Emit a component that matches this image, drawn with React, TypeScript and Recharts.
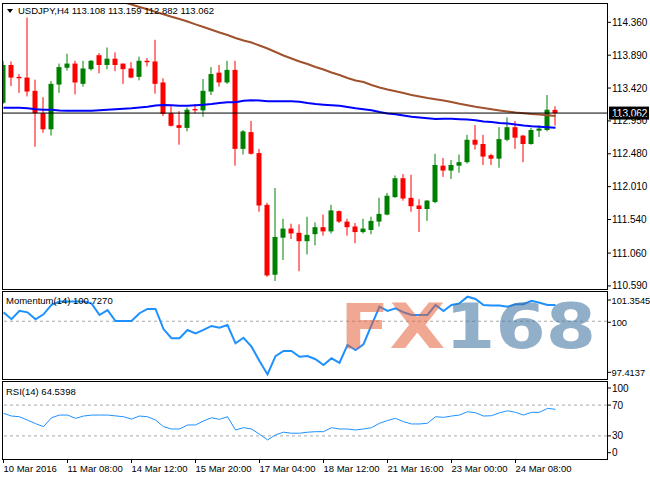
import React from 'react';
import { ComposedChart, Bar, Line, XAxis, YAxis, ReferenceLine } from 'recharts';

// USDJPY H4, 10 Mar - 24 Mar 2016
const openPx = [
  113.21, 113.75, 113.58, 113.57, 113.38, 113.06, 112.83, 113.47, 113.71, 113.77,
  113.48, 113.69, 113.89, 113.75, 113.84, 113.77, 113.70, 113.58, 113.81, 113.80,
  113.50, 113.06, 112.89, 112.85, 113.12, 113.10, 113.37, 113.64, 113.50, 113.68,
  112.55, 112.79, 112.49, 111.75, 110.75, 111.28, 111.41, 111.35, 111.23, 111.33,
  111.43, 111.37, 111.66, 111.51, 111.44, 111.36, 111.39, 111.51, 111.61, 111.86,
  112.13, 111.85, 111.74, 111.69, 111.79, 112.31, 112.24, 112.31, 112.36, 112.68,
  112.62, 112.46, 112.41, 112.68, 112.86, 112.74, 112.62, 112.81, 112.82, 113.108,
];
const highPx = [
  113.81, 113.80, 113.62, 114.43, 113.54, 113.29, 113.52, 113.77, 113.91, 113.81,
  113.81, 113.82, 113.92, 114.00, 113.93, 113.77, 113.79, 113.87, 113.85, 114.11,
  113.56, 113.16, 113.09, 113.14, 113.19, 113.55, 113.72, 113.75, 113.81, 113.81,
  112.82, 112.95, 112.55, 111.78, 111.99, 111.55, 111.48, 111.47, 111.58, 111.50,
  111.61, 111.75, 111.67, 111.55, 111.49, 111.55, 111.58, 111.85, 111.92, 112.17,
  112.19, 112.18, 111.83, 111.82, 112.48, 112.42, 112.39, 112.47, 112.75, 112.89,
  112.75, 112.48, 112.86, 113.00, 112.95, 112.75, 112.85, 112.89, 113.32, 113.159,
];
const lowPx = [
  113.19, 113.45, 113.35, 113.30, 112.58, 112.78, 112.74, 113.35, 113.67, 113.33,
  113.44, 113.67, 113.63, 113.69, 113.66, 113.48, 113.56, 113.53, 113.73, 113.34,
  113.02, 112.87, 112.61, 112.80, 113.06, 113.01, 113.32, 113.44, 113.48, 112.31,
  112.47, 112.47, 111.65, 110.72, 110.66, 110.96, 111.26, 110.80, 111.04, 111.17,
  111.31, 111.34, 111.49, 111.31, 111.20, 111.34, 111.33, 111.44, 111.60, 111.85,
  111.81, 111.65, 111.36, 111.52, 111.77, 112.15, 112.12, 112.21, 112.34, 112.54,
  112.32, 112.32, 112.28, 112.66, 112.55, 112.36, 112.61, 112.72, 112.80, 112.882,
];
const closePx = [
  113.75, 113.57, 113.56, 113.37, 113.06, 112.83, 113.48, 113.72, 113.77, 113.50,
  113.70, 113.81, 113.75, 113.84, 113.75, 113.69, 113.57, 113.81, 113.79, 113.48,
  113.05, 112.88, 112.85, 113.11, 113.10, 113.38, 113.62, 113.50, 113.68, 112.55,
  112.80, 112.48, 111.74, 110.74, 111.29, 111.41, 111.34, 111.23, 111.32, 111.43,
  111.37, 111.67, 111.51, 111.43, 111.36, 111.41, 111.52, 111.62, 111.88, 112.13,
  111.84, 111.73, 111.69, 111.81, 112.32, 112.24, 112.32, 112.36, 112.68, 112.61,
  112.44, 112.41, 112.69, 112.86, 112.71, 112.62, 112.82, 112.84, 113.11, 113.062,
];
// brown (slow) and blue (fast) moving averages
const maSlow = [
  115.194, 115.151, 115.115, 115.079, 115.044, 115.008, 114.972, 114.936, 114.901, 114.865,
  114.829, 114.793, 114.758, 114.722, 114.686, 114.646, 114.615, 114.579, 114.546, 114.510,
  114.476, 114.440, 114.407, 114.371, 114.331, 114.293, 114.253, 114.214, 114.178, 114.135,
  114.100, 114.071, 114.028, 113.985, 113.935, 113.885, 113.842, 113.799, 113.764, 113.721,
  113.685, 113.642, 113.606, 113.563, 113.528, 113.506, 113.463, 113.428, 113.399, 113.373,
  113.349, 113.320, 113.299, 113.277, 113.259, 113.242, 113.220, 113.195, 113.173, 113.152,
  113.134, 113.116, 113.099, 113.084, 113.070, 113.059, 113.049, 113.042, 113.032, 113.020,
];
const maFast = [
  113.139, 113.139, 113.139, 113.130, 113.116, 113.110, 113.110, 113.099, 113.096, 113.096,
  113.096, 113.096, 113.102, 113.110, 113.116, 113.123, 113.130, 113.142, 113.153, 113.170,
  113.177, 113.175, 113.167, 113.167, 113.175, 113.182, 113.192, 113.206, 113.216, 113.216,
  113.237, 113.245, 113.242, 113.230, 113.230, 113.230, 113.230, 113.223, 113.206, 113.192,
  113.182, 113.173, 113.166, 113.149, 113.130, 113.117, 113.102, 113.077, 113.056, 113.044,
  113.027, 113.010, 112.999, 112.987, 112.977, 112.980, 112.980, 112.974, 112.970, 112.959,
  112.941, 112.934, 112.920, 112.913, 112.899, 112.884, 112.874, 112.867, 112.860, 112.853,
];
const momentum = [
  100.40, 100.09, 100.47, 100.40, 100.09, 100.31, 100.73, 100.88, 100.88, 100.88,
  100.88, 100.80, 100.28, 100.50, 100.01, 100.01, 100.01, 100.36, 100.55, 100.55,
  99.65, 99.24, 99.24, 99.61, 99.46, 99.61, 99.79, 99.71, 99.83, 99.01,
  99.26, 98.86, 98.22, 97.62, 98.44, 98.67, 98.67, 98.41, 98.44, 98.30,
  98.04, 98.34, 98.14, 98.94, 98.71, 98.97, 99.83, 100.65, 100.46, 100.58,
  100.40, 100.28, 100.28, 100.28, 100.73, 100.46, 100.73, 100.80, 101.10, 101.00,
  100.73, 100.70, 100.70, 100.65, 100.76, 100.76, 100.92, 100.83, 100.73, 100.727,
];
const rsi = [
  59.3, 55.8, 54.9, 50.5, 46.0, 42.0, 53.6, 57.1, 57.1, 52.8,
  55.8, 57.0, 57.1, 57.1, 56.0, 54.9, 51.9, 55.8, 54.9, 50.6,
  42.0, 39.0, 39.0, 44.2, 44.2, 49.4, 53.6, 51.5, 54.9, 37.7,
  40.7, 39.0, 32.2, 24.8, 31.3, 34.8, 33.5, 33.5, 34.8, 35.5,
  35.5, 40.7, 39.0, 39.0, 37.7, 39.0, 40.7, 46.4, 50.0, 52.8,
  48.5, 45.5, 45.5, 46.4, 54.9, 54.1, 55.8, 57.1, 61.4, 60.1,
  55.8, 56.2, 60.0, 62.6, 60.6, 57.1, 60.6, 60.6, 65.7, 64.54,
];

const timeTicks = [0, 8, 16, 24, 32, 40, 48, 56, 64];
const timeLabels = [
  '10 Mar 2016', '11 Mar 08:00', '14 Mar 12:00', '15 Mar 20:00', '17 Mar 04:00',
  '18 Mar 12:00', '21 Mar 16:00', '23 Mar 00:00', '24 Mar 08:00',
];
const priceTicks = [114.36, 113.89, 113.42, 112.95, 112.48, 112.01, 111.54, 111.06, 110.59];
const momTicks = [97.4137, 100, 101.3545];
const rsiTicks = [0, 30, 70, 100];
const rsiLevels = [30, 70];
const lastPrice = 113.062;

const FONT = '"Liberation Sans", Arial, sans-serif';
const xDomain: [number, number] = [-0.0625, 75.4375];

const mainData = openPx.map((o, i) => ({
  i,
  open: o,
  high: highPx[i],
  low: lowPx[i],
  close: closePx[i],
  range: [lowPx[i], highPx[i]],
  slow: maSlow[i],
  fast: maFast[i],
}));
const oscData = momentum.map((m, i) => ({ i, mom: m, rsi: rsi[i] }));

const Candle = (props: any) => {
  const { x, y, width, height, payload } = props;
  if (payload == null || x == null) return null;
  const { open, close, high, low } = payload;
  const top = Math.min(y, y + height);
  const h = Math.abs(height);
  const k = h / (high - low);
  const yOf = (v: number) => top + (high - v) * k;
  const color = close >= open ? '#008000' : '#ff0000';
  const cx = x + width / 2;
  const bodyTop = yOf(Math.max(open, close));
  const bodyH = Math.max(1, Math.abs(yOf(open) - yOf(close)));
  return (
    <g>
      <line x1={cx} x2={cx} y1={top} y2={top + h} stroke={color} strokeWidth={1} />
      <rect x={cx - 2.5} y={bodyTop} width={5} height={bodyH} fill={color} />
    </g>
  );
};

const PriceTick = ({ x, y, payload }: any) => (
  <g>
    <line x1={x} x2={x + 4} y1={y} y2={y} stroke="#000" />
    <text x={x + 5} y={y} dy={3.5} fontSize={10} fontFamily={FONT} fill="#000">
      {payload.value.toFixed(3)}
    </text>
  </g>
);

const momShift: Record<string, number> = { '101.3545': 9, '100': 1, '97.4137': -6.7 };
const MomTick = ({ x, y, payload }: any) => {
  const ty = y + (momShift[String(payload.value)] || 0);
  return (
    <g>
      <line x1={x} x2={x + 4} y1={ty} y2={ty} stroke="#000" />
      <text x={x + 4.5} y={ty} dy={3.5} fontSize={9.3} fontFamily={FONT} fill="#000">
        {String(payload.value)}
      </text>
    </g>
  );
};

const RsiTick = ({ x, y, payload }: any) => {
  const shift = payload.value === 100 ? 6 : payload.value === 0 ? -6.3 : 0;
  const ty = y + shift;
  return (
    <g>
      <line x1={x} x2={x + 4} y1={ty} y2={ty} stroke="#000" />
      <text x={x + 5} y={ty} dy={3.5} fontSize={10} fontFamily={FONT} fill="#000">
        {String(payload.value)}
      </text>
    </g>
  );
};

const TimeTick = ({ x, y, payload }: any) => (
  <g>
    <line x1={x} x2={x} y1={y} y2={y + 4} stroke="#000" />
    <text x={x} y={y + 13} fontSize={9.5} fontFamily={FONT} fill="#000">
      {timeLabels[timeTicks.indexOf(payload.value)]}
    </text>
  </g>
);

const BidLabel = (props: any) => {
  const vb = props.viewBox || {};
  const x = vb.x + vb.width + 2;
  const y = vb.y;
  return (
    <g>
      <rect x={x} y={y - 6.5} width={40} height={13} fill="#000" />
      <text x={x + 3} y={y} dy={3.5} fontSize={10} fontFamily={FONT} fill="#fff">
        {lastPrice.toFixed(3)}
      </text>
    </g>
  );
};

const box = (top: number, height: number): React.CSSProperties => ({
  position: 'absolute', left: 2, top, width: 606, height,
  border: '1px solid #000', boxSizing: 'border-box', pointerEvents: 'none',
});

export default function App() {
  return (
    <div style={{ position: 'fixed', left: 0, top: 0, width: 650, height: 480, background: '#fff', fontFamily: FONT, overflow: 'hidden' }}>
      {/* price panel */}
      <div style={{ position: 'absolute', left: 0, top: 0 }}>
        <ComposedChart width={650} height={290} data={mainData} margin={{ top: 4, right: 0, bottom: 1, left: 3 }}>
          <XAxis type="number" dataKey="i" domain={xDomain} allowDataOverflow hide />
          <YAxis
            orientation="right" width={43} domain={[110.546, 114.622]} allowDataOverflow
            ticks={priceTicks} interval={0} axisLine={false} tickLine={false}
            tickSize={0} tickMargin={0} tick={<PriceTick />}
          />
          <Bar dataKey="range" barSize={5} shape={<Candle />} isAnimationActive={false} />
          <Line dataKey="slow" stroke="#a0522d" strokeWidth={2} dot={false} isAnimationActive={false} />
          <Line dataKey="fast" stroke="#0000ff" strokeWidth={2} dot={false} isAnimationActive={false} />
          <ReferenceLine y={lastPrice} stroke="#000" strokeWidth={1} label={<BidLabel />} />
        </ComposedChart>
      </div>

      {/* momentum panel */}
      <div style={{ position: 'absolute', left: 0, top: 290 }}>
        <ComposedChart width={650} height={90} data={oscData} margin={{ top: 1, right: 0, bottom: 1, left: 3 }}>
          <XAxis type="number" dataKey="i" domain={xDomain} allowDataOverflow hide />
          <YAxis
            orientation="right" width={43} domain={[97.4137, 101.3545]} allowDataOverflow
            ticks={momTicks} interval={0} axisLine={false} tickLine={false}
            tickSize={0} tickMargin={0} tick={<MomTick />}
          />
          <ReferenceLine y={100} stroke="#a8a8a8" strokeDasharray="3 3" />
          <Line dataKey="mom" stroke="#1e90ff" strokeWidth={2} dot={false} isAnimationActive={false} />
        </ComposedChart>
      </div>

      {/* RSI panel */}
      <div style={{ position: 'absolute', left: 0, top: 380 }}>
        <ComposedChart width={650} height={100} data={oscData} margin={{ top: 2, right: 0, bottom: 1, left: 3 }}>
          <XAxis
            type="number" dataKey="i" domain={xDomain} allowDataOverflow height={20}
            ticks={timeTicks} interval={0} axisLine={false} tickLine={false}
            tickSize={0} tickMargin={0} tick={<TimeTick />}
          />
          <YAxis
            orientation="right" width={43} domain={[0, 100]} allowDataOverflow
            ticks={rsiTicks} interval={0} axisLine={false} tickLine={false}
            tickSize={0} tickMargin={0} tick={<RsiTick />}
          />
          {rsiLevels.map(l => (
            <ReferenceLine key={l} y={l} stroke="#a8a8a8" strokeDasharray="3 3" />
          ))}
          <Line dataKey="rsi" stroke="#1e90ff" strokeWidth={1} dot={false} isAnimationActive={false} />
        </ComposedChart>
      </div>

      {/* frames, titles and watermark */}
      <div style={box(3, 287)} />
      <div style={box(291, 89)} />
      <div style={box(381, 79)} />
      <svg width={650} height={480} style={{ position: 'absolute', left: 0, top: 0, pointerEvents: 'none' }}>
        <polygon points="7,9 13,9 10,13" fill="#000" />
        <text x={18} y={14} fontSize={9.5} fontFamily={FONT} fill="#000">
          USDJPY,H4  113.108 113.159 112.882 113.062
        </text>
        <text x={6} y={303.5} fontSize={9.5} fontFamily={FONT} fill="#000">Momentum(14) 100.7270</text>
        <text x={6} y={394.5} fontSize={9.5} fontFamily={FONT} fill="#000">RSI(14) 64.5398</text>
        <text x={340} y={348} fontSize={62} fontWeight="bold" fontFamily='"DejaVu Sans", sans-serif'
          textLength={256} lengthAdjust="spacingAndGlyphs">
          <tspan fill="rgba(228,97,57,0.55)">FX</tspan>
          <tspan fill="rgba(57,110,157,0.55)">168</tspan>
        </text>
      </svg>
    </div>
  );
}
